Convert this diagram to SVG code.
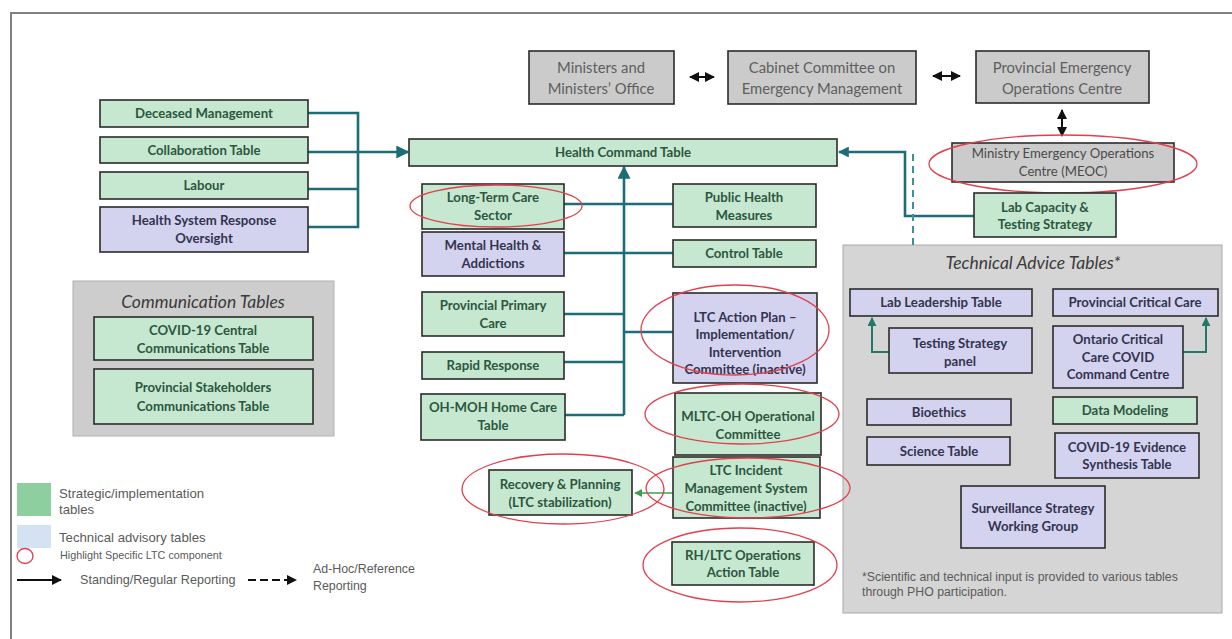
<svg xmlns="http://www.w3.org/2000/svg" width="1232" height="639" viewBox="0 0 1232 639">
<style>
.g{fill:#c6e8d0;stroke:#2b2b2b;stroke-width:1.6}
.p{fill:#d3d3f0;stroke:#2b2b2b;stroke-width:1.6}
.gr{fill:#cbcbcb;stroke:#2b2b2b;stroke-width:1.6}
.t{font-family:Lato,"Liberation Sans",sans-serif;font-size:13.2px;font-weight:700;text-anchor:middle;fill:#2d5640}
.tp{font-family:Lato,"Liberation Sans",sans-serif;font-size:13.2px;font-weight:700;text-anchor:middle;fill:#33334f}
.tg{font-family:Lato,"Liberation Sans",sans-serif;font-size:14.8px;text-anchor:middle;fill:#5e5e5e}
.tm{font-family:Lato,"Liberation Sans",sans-serif;font-size:13.2px;text-anchor:middle;fill:#4a4a4a}
.ti{font-family:Lato,"Liberation Sans",sans-serif;font-size:17.5px;font-style:italic;text-anchor:middle;fill:#3a3a3a}
.leg{font-family:"Liberation Sans",Arial,sans-serif;fill:#5a5a5a}
.c{fill:none;stroke:#1c6d77;stroke-width:2.6}
.ell{fill:none;stroke:#e0404c;stroke-width:1.3}
.bk{fill:none;stroke:#111;stroke-width:2}
</style>
<defs>
<marker id="ah" viewBox="0 0 10 10" refX="9" refY="5" markerWidth="4.2" markerHeight="4.2" orient="auto-start-reverse" markerUnits="strokeWidth"><path d="M0,0 L10,5 L0,10 z" fill="#1c6d77"/></marker>
<marker id="ahb" viewBox="0 0 10 10" refX="9" refY="5" markerWidth="13" markerHeight="13" orient="auto" markerUnits="userSpaceOnUse"><path d="M0,0 L10,5 L0,10 z" fill="#1c6d77"/></marker>
<marker id="ab" viewBox="0 0 10 10" refX="9" refY="5" markerWidth="5" markerHeight="5" orient="auto-start-reverse" markerUnits="strokeWidth"><path d="M0,0 L10,5 L0,10 z" fill="#111"/></marker>
<marker id="agr" viewBox="0 0 10 10" refX="9" refY="5" markerWidth="6" markerHeight="6" orient="auto" markerUnits="strokeWidth"><path d="M0,0 L10,5 L0,10 z" fill="#3aa04e"/></marker>
<marker id="atg" viewBox="0 0 10 10" refX="9" refY="5" markerWidth="4.5" markerHeight="4.5" orient="auto" markerUnits="strokeWidth"><path d="M0,0 L10,5 L0,10 z" fill="#23786a"/></marker>
</defs>
<rect width="1232" height="639" fill="#fff"/>
<path d="M11,639 V13 H1232" fill="none" stroke="#808080" stroke-width="2"/>

<!-- group backgrounds -->
<g id="communication-tables">
<rect x="73" y="281" width="261" height="155" fill="#cdcdcd" stroke="#b0b0b0" stroke-width="1"/>
<text class="ti" x="203" y="308">Communication Tables</text>
</g>
<g id="technical-advice-tables">
<rect x="843" y="245" width="379" height="368" fill="#d5d5d5" stroke="#aaaaaa" stroke-width="1"/>
<text class="ti" x="1033" y="269">Technical Advice Tables*</text>
<text class="leg" font-size="12.3" x="862" y="581">*Scientific and technical input is provided to various tables</text>
<text class="leg" font-size="12.3" x="862" y="596">through PHO participation.</text>
</g>

<!-- connectors -->
<g id="connectors">
<path class="c" d="M308,113 H358 V227 H308 M308,189 H358"/>
<path class="c" d="M308,152 H408" stroke-width="3.6" marker-end="url(#ahb)"/>
<path class="c" d="M624,415 V167" stroke-width="3.2" marker-end="url(#ahb)"/>
<path class="c" d="M564,204 H673 M564,253 H673 M564,314 H624 M624,332 H673 M564,362 H624 M565,415 H624"/>
<path class="c" d="M974,216 H905 V152 H839" marker-end="url(#ah)"/>
<path d="M913,154 V245" fill="none" stroke="#3f8fa0" stroke-width="2" stroke-dasharray="7,5"/>
<path class="bk" d="M690,77 H714" stroke-width="2.2" marker-start="url(#ab)" marker-end="url(#ab)"/>
<path class="bk" d="M933,76 H960" stroke-width="2.2" marker-start="url(#ab)" marker-end="url(#ab)"/>
<path class="bk" d="M1062,110 V136" stroke-width="2.2" marker-start="url(#ab)" marker-end="url(#ab)"/>
<path d="M673,493 H635" fill="none" stroke="#3aa04e" stroke-width="1.3" marker-end="url(#agr)"/>
<path d="M889,352 H872 V318" fill="none" stroke="#23786a" stroke-width="2" marker-end="url(#atg)"/>
<path d="M1183,352 H1206 V318" fill="none" stroke="#23786a" stroke-width="2" marker-end="url(#atg)"/>
</g>

<!-- top gray boxes -->
<g id="ministers"><rect class="gr" x="529" y="51" width="145" height="53"/><text class="tg" x="601" y="73">Ministers and</text><text class="tg" x="601" y="94">Ministers’ Office</text></g>
<g id="cabinet"><rect class="gr" x="728" y="51" width="188" height="53"/><text class="tg" x="822" y="73">Cabinet Committee on</text><text class="tg" x="822" y="94">Emergency Management</text></g>
<g id="peoc"><rect class="gr" x="976" y="51" width="173" height="52"/><text class="tg" x="1062" y="73">Provincial Emergency</text><text class="tg" x="1062" y="94">Operations Centre</text></g>
<g id="meoc"><rect class="gr" x="952" y="143" width="222" height="39"/><text class="tm" x="1063" y="158">Ministry Emergency Operations</text><text class="tm" x="1063" y="176">Centre (MEOC)</text><ellipse class="ell" cx="1063" cy="164" rx="134" ry="29"/></g>
<g id="lab-capacity"><rect class="g" x="974" y="193" width="142" height="44"/><text class="t" x="1045" y="212">Lab Capacity &amp;</text><text class="t" x="1045" y="229">Testing Strategy</text></g>

<!-- left boxes -->
<g id="deceased"><rect class="g" x="100" y="100" width="208" height="27"/><text class="t" x="204" y="118">Deceased Management</text></g>
<g id="collaboration"><rect class="g" x="100" y="137" width="208" height="26"/><text class="t" x="204" y="155">Collaboration Table</text></g>
<g id="labour"><rect class="g" x="100" y="172" width="208" height="27"/><text class="t" x="204" y="190">Labour</text></g>
<g id="hsro"><rect class="p" x="100" y="207" width="208" height="45"/><text class="tp" x="204" y="225">Health System Response</text><text class="tp" x="204" y="243">Oversight</text></g>

<g id="covid-central"><rect class="g" x="94" y="317" width="219" height="43"/><text class="t" x="203" y="335">COVID-19 Central</text><text class="t" x="203" y="353">Communications Table</text></g>
<g id="prov-stakeholders"><rect class="g" x="94" y="369" width="219" height="55"/><text class="t" x="203" y="392">Provincial Stakeholders</text><text class="t" x="203" y="411">Communications Table</text></g>

<!-- health command -->
<g id="health-command"><rect class="g" x="409" y="139" width="428" height="27"/><text class="t" x="623" y="157">Health Command Table</text></g>

<!-- middle left column -->
<g id="ltc-sector"><rect class="g" x="422" y="184" width="142" height="45"/><text class="t" x="493" y="202">Long-Term Care</text><text class="t" x="493" y="220">Sector</text><ellipse class="ell" cx="496" cy="206" rx="86" ry="21"/></g>
<g id="mental-health"><rect class="p" x="422" y="232" width="142" height="44"/><text class="tp" x="493" y="250">Mental Health &amp;</text><text class="tp" x="493" y="268">Addictions</text></g>
<g id="primary-care"><rect class="g" x="422" y="292" width="142" height="44"/><text class="t" x="493" y="310">Provincial Primary</text><text class="t" x="493" y="328">Care</text></g>
<g id="rapid-response"><rect class="g" x="422" y="352" width="142" height="27"/><text class="t" x="493" y="370">Rapid Response</text></g>
<g id="home-care"><rect class="g" x="421" y="394" width="144" height="46"/><text class="t" x="493" y="412">OH-MOH Home Care</text><text class="t" x="493" y="430">Table</text></g>

<!-- middle right column -->
<g id="public-health"><rect class="g" x="673" y="184" width="143" height="43"/><text class="t" x="744" y="202">Public Health</text><text class="t" x="744" y="220">Measures</text></g>
<g id="control-table"><rect class="g" x="673" y="240" width="143" height="27"/><text class="t" x="744" y="258">Control Table</text></g>
<g id="ltc-action-plan"><rect class="p" x="673" y="293" width="144" height="90"/><text class="tp" x="745" y="322">LTC Action Plan –</text><text class="tp" x="745" y="339">Implementation/</text><text class="tp" x="745" y="357">Intervention</text><text class="tp" x="745" y="374">Committee (inactive)</text><ellipse class="ell" cx="735" cy="330" rx="94" ry="45"/></g>
<g id="mltc-oh"><rect class="g" x="675" y="393" width="146" height="62"/><text class="t" x="748" y="421">MLTC-OH Operational</text><text class="t" x="748" y="439">Committee</text><ellipse class="ell" cx="742" cy="414" rx="97" ry="30"/></g>
<g id="ltc-incident"><rect class="g" x="673" y="457" width="147" height="61"/><text class="t" x="746" y="475">LTC Incident</text><text class="t" x="746" y="493">Management System</text><text class="t" x="746" y="511">Committee (inactive)</text><ellipse class="ell" cx="748" cy="488" rx="102" ry="30"/></g>
<g id="recovery"><rect class="g" x="489" y="470" width="143" height="45"/><text class="t" x="560" y="489">Recovery &amp; Planning</text><text class="t" x="560" y="507">(LTC stabilization)</text><ellipse class="ell" cx="563" cy="489" rx="101" ry="35"/></g>
<g id="rh-ltc"><rect class="g" x="672" y="542" width="142" height="43"/><text class="t" x="743" y="560">RH/LTC Operations</text><text class="t" x="743" y="577">Action Table</text><ellipse class="ell" cx="740" cy="565" rx="97" ry="37"/></g>

<!-- technical advice tables -->
<g id="lab-leadership"><rect class="p" x="850" y="289" width="182" height="27"/><text class="tp" x="941" y="307">Lab Leadership Table</text></g>
<g id="prov-critical-care"><rect class="p" x="1053" y="289" width="165" height="27"/><text class="tp" x="1135" y="307">Provincial Critical Care</text></g>
<g id="testing-strategy"><rect class="p" x="889" y="328" width="143" height="45"/><text class="tp" x="960" y="348">Testing Strategy</text><text class="tp" x="960" y="366">panel</text></g>
<g id="ontario-cc"><rect class="p" x="1053" y="326" width="130" height="62"/><text class="tp" x="1118" y="344">Ontario Critical</text><text class="tp" x="1118" y="362">Care COVID</text><text class="tp" x="1118" y="379">Command Centre</text></g>
<g id="bioethics"><rect class="p" x="867" y="399" width="144" height="26"/><text class="tp" x="939" y="417">Bioethics</text></g>
<g id="data-modeling"><rect class="g" x="1053" y="397" width="144" height="27"/><text class="t" x="1125" y="415">Data Modeling</text></g>
<g id="science-table"><rect class="p" x="867" y="437" width="143" height="28"/><text class="tp" x="939" y="456">Science Table</text></g>
<g id="evidence-synthesis"><rect class="p" x="1055" y="433" width="144" height="45"/><text class="tp" x="1127" y="452">COVID-19 Evidence</text><text class="tp" x="1127" y="469">Synthesis Table</text></g>
<g id="surveillance"><rect class="p" x="961" y="486" width="144" height="62"/><text class="tp" x="1033" y="513">Surveillance Strategy</text><text class="tp" x="1033" y="531">Working Group</text></g>

<!-- legend -->
<g id="legend">
<rect x="17" y="483" width="34" height="33" fill="#8dcf9f"/>
<text class="leg" font-size="13.2" x="59" y="498">Strategic/implementation</text>
<text class="leg" font-size="13.2" x="59" y="514">tables</text>
<rect x="17" y="525" width="34" height="23" fill="#d5e2f3"/>
<text class="leg" font-size="13.2" x="59" y="542">Technical advisory tables</text>
<ellipse cx="25" cy="556" rx="8" ry="7.5" fill="none" stroke="#e0404c" stroke-width="1.3"/>
<text class="leg" font-size="10.8" x="60" y="559">Highlight Specific LTC component</text>
<path class="bk" d="M17,580 H61" stroke-width="2.2" marker-end="url(#ab)"/>
<text class="leg" font-size="12.6" x="80" y="584">Standing/Regular Reporting</text>
<path class="bk" d="M248,580 H296" stroke-width="2.6" stroke-dasharray="8,4" marker-end="url(#ab)"/>
<text class="leg" font-size="12.4" x="313" y="573">Ad-Hoc/Reference</text>
<text class="leg" font-size="12.4" x="313" y="590">Reporting</text>
</g>
</svg>
